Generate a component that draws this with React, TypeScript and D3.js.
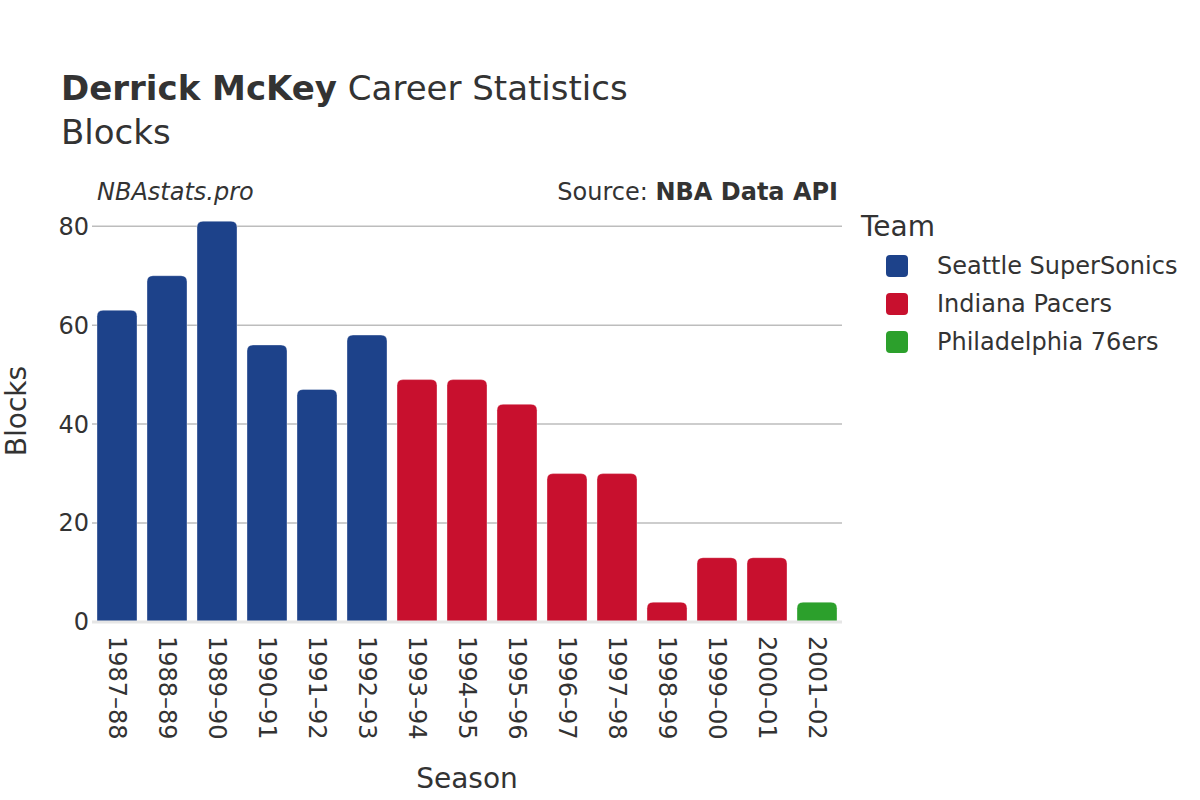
import React from 'react'
import * as d3 from 'd3'

const seasons = ['1987–88', '1988–89', '1989–90', '1990–91', '1991–92', '1992–93', '1993–94', '1994–95', '1995–96', '1996–97', '1997–98', '1998–99', '1999–00', '2000–01', '2001–02']
const blocks = [63, 70, 81, 56, 47, 58, 49, 49, 44, 30, 30, 4, 13, 13, 4]
const teamOf = ['SEA', 'SEA', 'SEA', 'SEA', 'SEA', 'SEA', 'IND', 'IND', 'IND', 'IND', 'IND', 'IND', 'IND', 'IND', 'PHI']
const teams = ['SEA', 'IND', 'PHI']
const teamNames = ['Seattle SuperSonics', 'Indiana Pacers', 'Philadelphia 76ers']
const teamColors = ['#1d428a', '#c8102e', '#2ca02c']
const yTicks = [0, 20, 40, 60, 80]

const W = 1200
const H = 800
const m = { left: 92, right: 842, top: 200, bottom: 622 }
const font = 'DejaVu Sans, sans-serif'
const ink = '#333'

function barPath(x: number, y: number, w: number, h: number, r: number) {
  const rr = Math.min(r, h, w / 2)
  return `M${x},${y + h}V${y + rr}Q${x},${y} ${x + rr},${y}H${x + w - rr}Q${x + w},${y} ${x + w},${y + rr}V${y + h}Z`
}

export default function App() {
  const x = d3.scaleBand().domain(seasons).range([m.left, m.right]).paddingInner(0.2).paddingOuter(0.1)
  const y = d3.scaleLinear().domain([0, 85.3]).range([m.bottom, m.top])
  const color = d3.scaleOrdinal<string, string>().domain(teams).range(teamColors)

  return (
    <svg width={W} height={H} style={{ display: 'block', position: 'absolute', left: 0, top: 0, background: '#fff' }} fontFamily={font}>
      <text x={61} y={100} fontSize={34} fill={ink}>
        <tspan fontWeight="bold">Derrick McKey</tspan> Career Statistics
      </text>
      <text x={61} y={144} fontSize={34} fill={ink}>Blocks</text>

      <text x={97} y={200} fontSize={24} fontStyle="italic" fill={ink}>NBAstats.pro</text>
      <text x={838} y={200} fontSize={24} textAnchor="end" fill={ink}>
        Source: <tspan fontWeight="bold">NBA Data API</tspan>
      </text>

      {yTicks.filter(t => t > 0).map(t => (
        <line key={t} x1={m.left} x2={m.right} y1={y(t)} y2={y(t)} stroke="#bdbdbd" strokeWidth={1.5} />
      ))}
      {yTicks.map(t => (
        <text key={t} x={89} y={y(t)} dy="0.35em" fontSize={24} textAnchor="end" fill={ink}>{t}</text>
      ))}

      {seasons.map((s, i) => {
        const bx = x(s) as number
        const by = y(blocks[i])
        return (
          <path key={s} d={barPath(bx, by, x.bandwidth(), y(0) - by, 6)}
            fill={color(teamOf[i])} stroke="#fff" strokeOpacity={0.35} strokeWidth={1} />
        )
      })}
      <line x1={m.left} x2={m.right} y1={y(0)} y2={y(0)} stroke="#e6e6e6" strokeWidth={3} />

      {seasons.map(s => {
        const cx = (x(s) as number) + x.bandwidth() / 2
        return (
          <text key={s} transform={`translate(${cx},636) rotate(90)`} fontSize={24} dy="0.35em" fill={ink}>{s}</text>
        )
      })}

      <text transform={`translate(26,${(m.top + m.bottom) / 2}) rotate(-90)`} fontSize={28} textAnchor="middle" fill={ink}>Blocks</text>
      <text x={(m.left + m.right) / 2} y={788} fontSize={28} textAnchor="middle" fill={ink}>Season</text>

      <text x={861} y={236} fontSize={28} fill={ink}>Team</text>
      {teams.map((t, i) => (
        <g key={t} transform={`translate(0,${266 + i * 38})`}>
          <rect x={886} y={-11} width={22} height={22} rx={4} fill={teamColors[i]} />
          <text x={937} y={0} dy="0.35em" fontSize={24} fill={ink}>{teamNames[i]}</text>
        </g>
      ))}
    </svg>
  )
}
